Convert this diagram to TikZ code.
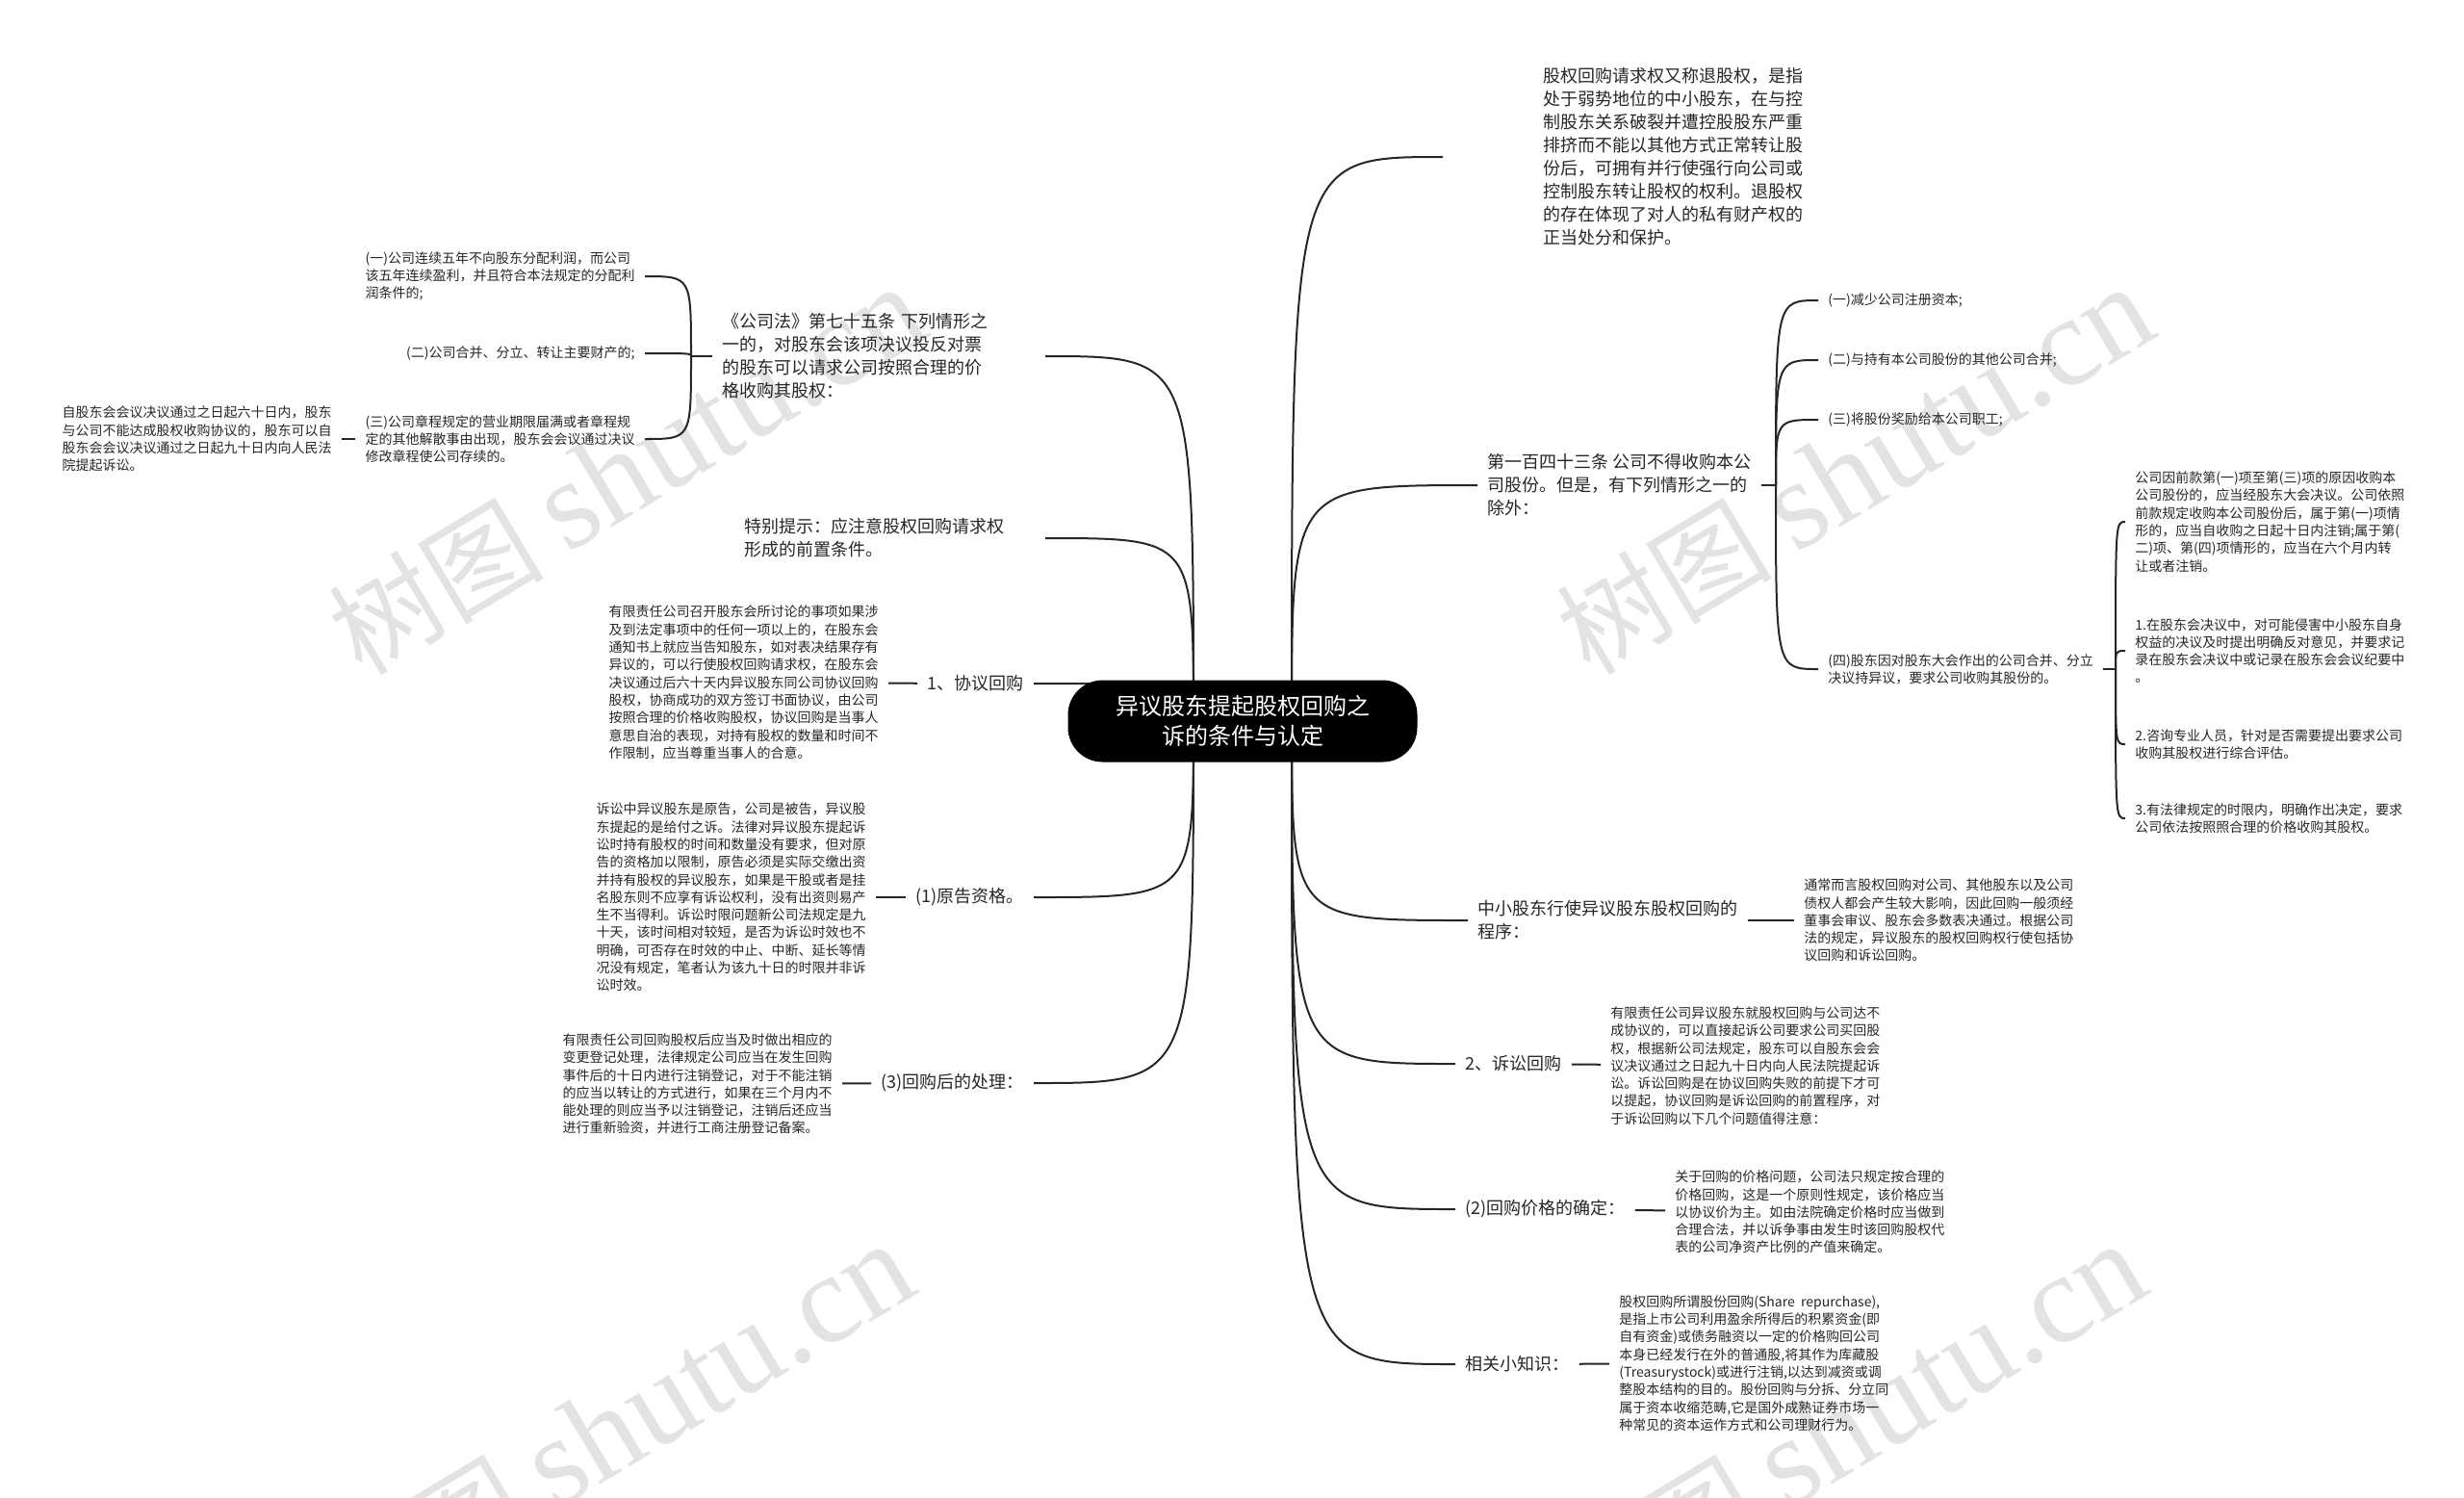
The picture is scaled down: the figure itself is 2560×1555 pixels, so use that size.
\documentclass[tikz,border=0pt]{standalone}
\usepackage{fontspec}
\setmainfont{Noto Sans CJK SC}
\newfontfamily\wmfont{Liberation Serif}
\usetikzlibrary{calc}

\tikzset{
  lnk/.style={draw=black!85, line width=1pt},
  mid/.style={font=\fontsize{9pt}{12pt}\selectfont, align=left, text=black!85, inner xsep=5pt, inner ysep=2pt},
  sml/.style={font=\fontsize{7pt}{9.15pt}\selectfont, align=left, text=black!85, inner xsep=5pt, inner ysep=2pt},
  wmark/.style={text=black!11, rotate=31, anchor=base west, inner sep=0pt, font=\fontsize{56pt}{56pt}\selectfont}
}
\newcommand{\wmtext}{树图 {\wmfont\fontsize{66pt}{66pt}\selectfont shutu.cn}}

\begin{document}
\begin{tikzpicture}[x=0.5pt, y=-0.5pt]
\useasboundingbox (0,0) rectangle (2560,1555);
\clip (0,0) rectangle (2560,1555);

% marcas de agua
\node[wmark] (wm1) at (376,704) {\wmtext};
\node[wmark] (wm2) at (1652,704) {\wmtext};
\node[wmark] (wm3) at (364,1698) {\wmtext};
\node[wmark] (wm4) at (1644,1698) {\wmtext};

% lado derecho
\node[mid, anchor=west, text width=185pt] (r1) at (1499,163) {\leftskip=47pt
股权回购请求权又称退股权，是指\\处于弱势地位的中小股东，在与控\\制股东关系破裂并遭控股股东严重\\排挤而不能以其他方式正常转让股\\份后，可拥有并行使强行向公司或\\控制股东转让股权的权利。退股权\\的存在体现了对人的私有财产权的\\正当处分和保护。\par};

\node[mid, anchor=west] (r2) at (1535,504) {第一百四十三条 公司不得收购本公\\司股份。但是，有下列情形之一的\\除外：};
\coordinate (r2b) at (1845,504);
\node[sml, anchor=west] (r2n1) at (1889,312) {(一)减少公司注册资本;};
\node[sml, anchor=west] (r2n2) at (1889,374) {(二)与持有本公司股份的其他公司合并;};
\node[sml, anchor=west] (r2n3) at (1889,436) {(三)将股份奖励给本公司职工;};
\node[sml, anchor=west] (r2n4) at (1889,695) {(四)股东因对股东大会作出的公司合并、分立\\决议持异议，要求公司收购其股份的。};
\coordinate (r2n4b) at (2198,695);
\node[sml, anchor=west] (r2n4c1) at (2208,542) {公司因前款第(一)项至第(三)项的原因收购本\\公司股份的，应当经股东大会决议。公司依照\\前款规定收购本公司股份后，属于第(一)项情\\形的，应当自收购之日起十日内注销;属于第(\\二)项、第(四)项情形的，应当在六个月内转\\让或者注销。};
\node[sml, anchor=west] (r2n4c2) at (2208,676) {1.在股东会决议中，对可能侵害中小股东自身\\权益的决议及时提出明确反对意见，并要求记\\录在股东会决议中或记录在股东会会议纪要中\\。};
\node[sml, anchor=west] (r2n4c3) at (2208,773) {2.咨询专业人员，针对是否需要提出要求公司\\收购其股权进行综合评估。};
\node[sml, anchor=west] (r2n4c4) at (2208,850) {3.有法律规定的时限内，明确作出决定，要求\\公司依法按照照合理的价格收购其股权。};

\node[mid, anchor=west] (r3) at (1525,956) {中小股东行使异议股东股权回购的\\程序：};
\node[sml, anchor=west] (r3c) at (1864,956) {通常而言股权回购对公司、其他股东以及公司\\债权人都会产生较大影响，因此回购一般须经\\董事会审议、股东会多数表决通过。根据公司\\法的规定，异议股东的股权回购权行使包括协\\议回购和诉讼回购。};

\node[mid, anchor=west] (r4) at (1512,1105) {2、诉讼回购};
\node[sml, anchor=west] (r4c) at (1663,1107) {有限责任公司异议股东就股权回购与公司达不\\成协议的，可以直接起诉公司要求公司买回股\\权，根据新公司法规定，股东可以自股东会会\\议决议通过之日起九十日内向人民法院提起诉\\讼。诉讼回购是在协议回购失败的前提下才可\\以提起，协议回购是诉讼回购的前置程序，对\\于诉讼回购以下几个问题值得注意：};

\node[mid, anchor=west] (r5) at (1512,1256) {(2)回购价格的确定：};
\node[sml, anchor=west] (r5c) at (1730,1259) {关于回购的价格问题，公司法只规定按合理的\\价格回购，这是一个原则性规定，该价格应当\\以协议价为主。如由法院确定价格时应当做到\\合理合法，并以诉争事由发生时该回购股权代\\表的公司净资产比例的产值来确定。};

\node[mid, anchor=west] (r6) at (1512,1417) {相关小知识：};
\node[sml, anchor=west] (r6c) at (1672,1416) {股权回购所谓股份回购(Share\ \ repurchase),\\是指上市公司利用盈余所得后的积累资金(即\\自有资金)或债务融资以一定的价格购回公司\\本身已经发行在外的普通股,将其作为库藏股\\(Treasurystock)或进行注销,以达到减资或调\\整股本结构的目的。股份回购与分拆、分立同\\属于资本收缩范畴,它是国外成熟证券市场一\\种常见的资本运作方式和公司理财行为。};

% lado izquierdo
\node[mid, anchor=east, text width=162.5pt] (l1) at (1086,370) {《公司法》第七十五条 下列情形之\\一的，对股东会该项决议投反对票\\的股东可以请求公司按照合理的价\\格收购其股权：};
\coordinate (l1b) at (718,370);
\node[sml, anchor=east] (l1n1) at (670,287) {(一)公司连续五年不向股东分配利润，而公司\\该五年连续盈利，并且符合本法规定的分配利\\润条件的;};
\node[sml, anchor=east] (l1n2) at (670,367) {(二)公司合并、分立、转让主要财产的;};
\node[sml, anchor=east] (l1n3) at (670,456) {(三)公司章程规定的营业期限届满或者章程规\\定的其他解散事由出现，股东会会议通过决议\\修改章程使公司存续的。};
\node[sml, anchor=east] (l1n3c) at (355,456) {自股东会会议决议通过之日起六十日内，股东\\与公司不能达成股权收购协议的，股东可以自\\股东会会议决议通过之日起九十日内向人民法\\院提起诉讼。};

\node[mid, anchor=east, text width=151pt] (l2) at (1086,559) {特别提示：应注意股权回购请求权\\形成的前置条件。};

\node[mid, anchor=east] (l3) at (1074,710) {1、协议回购};
\node[sml, anchor=east] (l3c) at (923,709) {有限责任公司召开股东会所讨论的事项如果涉\\及到法定事项中的任何一项以上的，在股东会\\通知书上就应当告知股东，如对表决结果存有\\异议的，可以行使股权回购请求权，在股东会\\决议通过后六十天内异议股东同公司协议回购\\股权，协商成功的双方签订书面协议，由公司\\按照合理的价格收购股权，协议回购是当事人\\意思自治的表现，对持有股权的数量和时间不\\作限制，应当尊重当事人的合意。};

\node[mid, anchor=east] (l4) at (1074,932) {(1)原告资格。};
\node[sml, anchor=east] (l4c) at (910,932) {诉讼中异议股东是原告，公司是被告，异议股\\东提起的是给付之诉。法律对异议股东提起诉\\讼时持有股权的时间和数量没有要求，但对原\\告的资格加以限制，原告必须是实际交缴出资\\并持有股权的异议股东，如果是干股或者是挂\\名股东则不应享有诉讼权利，没有出资则易产\\生不当得利。诉讼时限问题新公司法规定是九\\十天，该时间相对较短，是否为诉讼时效也不\\明确，可否存在时效的中止、中断、延长等情\\况没有规定，笔者认为该九十日的时限并非诉\\讼时效。};

\node[mid, anchor=east] (l5) at (1074,1125) {(3)回购后的处理：};
\node[sml, anchor=east] (l5c) at (875,1126) {有限责任公司回购股权后应当及时做出相应的\\变更登记处理，法律规定公司应当在发生回购\\事件后的十日内进行注销登记，对于不能注销\\的应当以转让的方式进行，如果在三个月内不\\能处理的则应当予以注销登记，注销后还应当\\进行重新验资，并进行工商注册登记备案。};

% conectores
\coordinate (rootR) at (1342,749);
\coordinate (rootL) at (1240,749);
\foreach \n in {r1,r2,r3,r4,r5,r6}
  \draw[lnk] (rootR) .. controls (rootR |- \n.west) .. (\n.west);
\foreach \n in {l1,l2,l3,l4,l5}
  \draw[lnk] (rootL) .. controls (rootL |- \n.east) .. (\n.east);

\draw[lnk] (r2.east) -- (r2b);
\foreach \n in {r2n1,r2n2,r2n3,r2n4}
  \draw[lnk] (r2b) .. controls (r2b |- \n.west) .. (\n.west);
\draw[lnk] (r2n4.east) -- (r2n4b);
\foreach \n in {r2n4c1,r2n4c2,r2n4c3,r2n4c4}
  \draw[lnk] (r2n4b) .. controls (r2n4b |- \n.west) .. (\n.west);
\draw[lnk] (r3) -- (r3c);
\draw[lnk] (r4) -- (r4c);
\draw[lnk] (r5) -- (r5c);
\draw[lnk] (r6) -- (r6c);

\draw[lnk] (l1.west) -- (l1b);
\foreach \n in {l1n1,l1n2,l1n3}
  \draw[lnk] (l1b) .. controls (l1b |- \n.east) .. (\n.east);
\draw[lnk] (l1n3) -- (l1n3c);
\draw[lnk] (l3) -- (l3c);
\draw[lnk] (l4) -- (l4c);
\draw[lnk] (l5) -- (l5c);

% nodo central
\node[fill=black, text=white, rounded corners=18pt, minimum width=181.5pt, minimum height=42.5pt, align=center, font=\fontsize{12pt}{15.5pt}\selectfont] (root) at (1291,749) {异议股东提起股权回购之\\诉的条件与认定};
\end{tikzpicture}
\end{document}
